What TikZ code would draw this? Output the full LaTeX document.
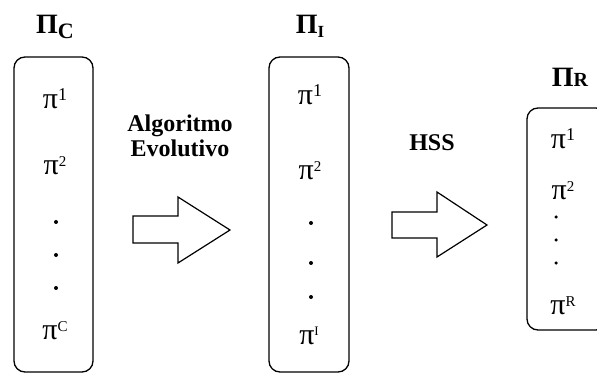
\documentclass[tikz,border=0pt]{standalone}
\usepackage{fontspec}
\setmainfont{Liberation Serif}
\newcommand{\pisup}[2]{\fontsize{30}{30}\selectfont π\raisebox{0.6ex}{\fontsize{#1}{#1}\selectfont #2}}
\begin{document}
\begin{tikzpicture}[x=1pt,y=-1pt,
  listbox/.style={draw,line width=1.3pt,rounded corners=11pt,inner sep=0pt},
  item/.style={inner sep=0pt},
  dotitem/.style={circle,fill,inner sep=0pt,minimum size=4pt},
  ttl/.style={inner sep=0pt,font=\bfseries\fontsize{28}{28}\selectfont},
  lbl/.style={inner sep=0pt,align=center,font=\bfseries\fontsize{24}{25}\selectfont},
  blockarrow/.style={draw,line width=1.2pt,fill=white}]
\useasboundingbox (0,0) rectangle (597,374);
\clip (0,0) rectangle (597,374);
% boxes
\node[listbox,minimum width=79pt,minimum height=315pt] (bc) at (53.5,214.5) {};
\node[listbox,minimum width=80pt,minimum height=315pt] (bi) at (309,214.5) {};
\node[listbox,minimum width=80pt,minimum height=222pt] (br) at (567,219) {};
% titles
\node[ttl] (tc) at (55,27) {Π\raisebox{-0.35ex}{\fontsize{22}{22}\selectfont C}};
\node[ttl] (ti) at (310,26) {Π\raisebox{-0.3ex}{\fontsize{17}{17}\selectfont I}};
\node[ttl] (tr) at (570,77) {Π\fontsize{20}{20}\selectfont R};
% left list
\node[item] (c1) at (55,99) {\pisup{18}{1}};
\node[item] (c2) at (55,166) {\pisup{15}{2}};
\node[dotitem] (cd1) at (56,222) {};
\node[dotitem] (cd2) at (56,255) {};
\node[dotitem] (cd3) at (56,288) {};
\node[item] (cc) at (55,331) {\pisup{15}{C}};
% middle list
\node[item] (i1) at (310,95) {\pisup{18}{1}};
\node[item] (i2) at (310,171) {\pisup{15}{2}};
\node[dotitem] (id1) at (311,223) {};
\node[dotitem] (id2) at (311,263) {};
\node[dotitem] (id3) at (311,297) {};
\node[item] (ii) at (309,336) {\pisup{13}{I}};
% right list
\node[item] (r1) at (563,139) {\pisup{18}{1}};
\node[item] (r2) at (563,191) {\pisup{15}{2}};
\node[dotitem,minimum size=3.5pt] (rd1) at (556,217) {};
\node[dotitem,minimum size=3.5pt] (rd2) at (556,240) {};
\node[dotitem,minimum size=3.5pt] (rd3) at (556,263) {};
\node[item] (rr) at (563,306) {\pisup{15}{R}};
% labels
\node[lbl] (la) at (180,136) {Algoritmo\\Evolutivo};
\node[lbl] (lh) at (432,143) {HSS};
% block arrows
\draw[blockarrow] (133,216) -- (178,216) -- (178,197) -- (230,230) -- (178,263) -- (178,243) -- (133,243) -- cycle;
\draw[blockarrow] (392,212) -- (437,212) -- (437,192) -- (487,225) -- (437,257) -- (437,238) -- (392,238) -- cycle;
\end{tikzpicture}
\end{document}
